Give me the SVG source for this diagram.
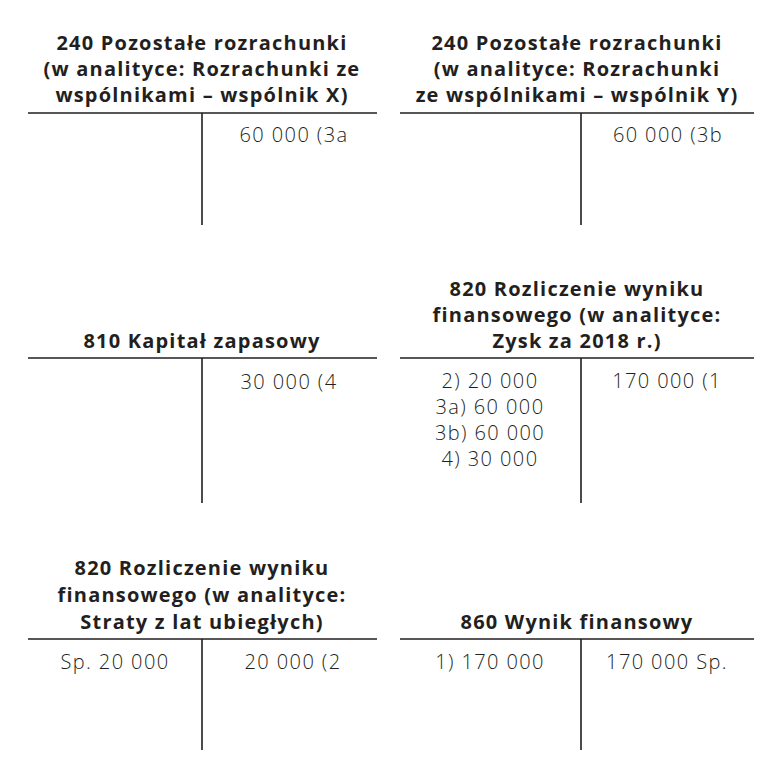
<svg xmlns="http://www.w3.org/2000/svg" width="770" height="760" viewBox="0 0 770 760">
<style>
.t{font-family:"Open Sans","Noto Sans",sans-serif;font-weight:bold;font-size:20px;letter-spacing:1.2px;fill:#231f20;text-anchor:middle}
.e{font-family:"Open Sans","Noto Sans",sans-serif;font-weight:300;font-size:20px;letter-spacing:1.4px;fill:#231f20;text-anchor:middle}
.l{stroke:#231f20;stroke-width:1.6;fill:none}
</style>
<rect width="770" height="760" fill="#fff"/>
<g id="acc240x">
<text class="t" x="202" y="50">240 Pozostałe rozrachunki</text>
<text class="t" x="202" y="76">(w analityce: Rozrachunki ze</text>
<text class="t" x="202" y="102">wspólnikami – wspólnik X)</text>
<text class="e" x="294" y="142">60 000 (3a</text>
</g>
<g id="acc240y">
<text class="t" x="577" y="50">240 Pozostałe rozrachunki</text>
<text class="t" x="577" y="76">(w analityce: Rozrachunki</text>
<text class="t" x="577" y="102">ze wspólnikami – wspólnik Y)</text>
<text class="e" x="668" y="142">60 000 (3b</text>
</g>
<g id="acc810">
<text class="t" x="202" y="348">810 Kapitał zapasowy</text>
<text class="e" x="289" y="389">30 000 (4</text>
</g>
<g id="acc820zysk">
<text class="t" x="577" y="296">820 Rozliczenie wyniku</text>
<text class="t" x="577" y="322">finansowego (w analityce:</text>
<text class="t" x="577" y="348">Zysk za 2018 r.)</text>
<text class="e" x="490" y="388">2) 20 000</text>
<text class="e" x="490" y="414">3a) 60 000</text>
<text class="e" x="490" y="440">3b) 60 000</text>
<text class="e" x="490" y="466">4) 30 000</text>
<text class="e" x="667" y="388">170 000 (1</text>
</g>
<g id="acc820straty">
<text class="t" x="202" y="575">820 Rozliczenie wyniku</text>
<text class="t" x="202" y="602">finansowego (w analityce:</text>
<text class="t" x="202" y="629">Straty z lat ubiegłych)</text>
<text class="e" x="115" y="669">Sp. 20 000</text>
<text class="e" x="293" y="669">20 000 (2</text>
</g>
<g id="acc860">
<text class="t" x="577" y="629">860 Wynik finansowy</text>
<text class="e" x="490" y="669">1) 170 000</text>
<text class="e" x="667" y="669">170 000 Sp.</text>
</g>
<g id="connectors">
<path class="l" d="M28 113H377M202 113V225"/>
<path class="l" d="M400 113H754M581 113V225"/>
<path class="l" d="M28 358H377M202 358V503"/>
<path class="l" d="M400 358H754M581 358V503"/>
<path class="l" d="M28 639H377M202 639V750"/>
<path class="l" d="M400 639H754M581 639V750"/>
</g>
</svg>
